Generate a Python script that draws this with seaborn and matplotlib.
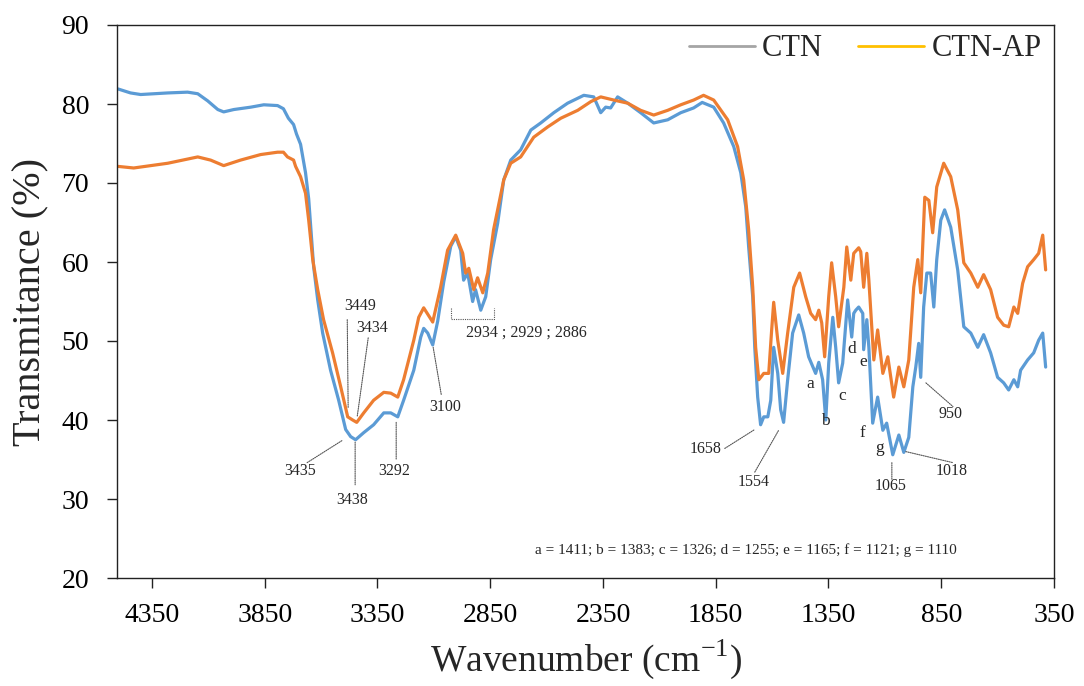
import matplotlib
matplotlib.use("Agg")
import matplotlib.pyplot as plt
import pandas as pd
import seaborn as sns
from matplotlib.lines import Line2D

# ---------------- data ----------------
ctn_wn = [4500, 4445, 4400, 4280, 4192, 4147, 4103, 4058, 4032, 3987, 3912, 3854, 3793,
          3767, 3745, 3722, 3709, 3691, 3678, 3669, 3655, 3646, 3633, 3615, 3593, 3558,
          3522, 3491, 3469, 3447, 3411, 3367, 3322, 3291, 3260, 3234, 3189, 3158, 3145,
          3127, 3105, 3083, 3056, 3025, 3003, 2981, 2968, 2950, 2928, 2915, 2892, 2870,
          2848, 2817, 2790, 2759, 2715, 2670, 2626, 2568, 2507, 2435, 2391, 2360, 2338,
          2316, 2285, 2240, 2183, 2125, 2063, 2005, 1948, 1910, 1859, 1815, 1770, 1739,
          1717, 1704, 1686, 1677, 1664, 1651, 1637, 1619, 1606, 1593, 1575, 1562, 1549,
          1531, 1509, 1482, 1460, 1438, 1407, 1393, 1376, 1362, 1349, 1331, 1318, 1305,
          1287, 1265, 1247, 1238, 1229, 1216, 1198, 1194, 1180, 1171, 1154, 1132, 1109,
          1092, 1065, 1038, 1016, 994, 976, 963, 950, 941, 928, 914, 897, 883, 870, 852,
          835, 808, 777, 750, 719, 688, 662, 631, 600, 573, 551, 528, 511, 498, 467, 440,
          418, 400, 387]
ctn_t = [81.9, 81.4, 81.2, 81.4, 81.5, 81.3, 80.4, 79.3, 79.0, 79.3, 79.6, 79.9, 79.8,
         79.4, 78.2, 77.4, 76.2, 74.9, 72.8, 71.3, 68.0, 64.5, 59.4, 55.2, 51.0, 46.3,
         42.5, 38.8, 37.9, 37.5, 38.4, 39.4, 40.9, 40.9, 40.4, 42.5, 46.3, 50.5, 51.6,
         51.0, 49.5, 52.5, 57.5, 62.0, 63.2, 61.5, 57.7, 58.6, 55.0, 56.5, 53.9, 55.6,
         60.3, 64.9, 70.4, 72.9, 74.2, 76.7, 77.6, 78.9, 80.1, 81.1, 80.9, 78.9, 79.6,
         79.5, 80.9, 80.1, 78.9, 77.6, 78.0, 78.9, 79.5, 80.2, 79.6, 77.6, 74.6, 71.3,
         67.0, 61.9, 55.6, 49.2, 42.9, 39.4, 40.4, 40.4, 42.5, 49.2, 45.9, 41.3, 39.7,
         45.1, 51.0, 53.3, 51.0, 48.0, 45.9, 47.3, 45.1, 40.0, 47.2, 53.0, 49.2, 44.7,
         47.2, 55.2, 50.5, 53.5, 53.9, 54.3, 53.5, 48.9, 52.7, 49.2, 39.6, 42.9, 38.7,
         39.6, 35.6, 38.1, 35.9, 37.8, 44.2, 46.7, 49.7, 45.4, 54.3, 58.6, 58.6, 54.3,
         60.3, 65.3, 66.6, 64.4, 59.0, 51.8, 51.0, 49.2, 50.8, 48.5, 45.4, 44.7, 43.8,
         45.1, 44.2, 46.3, 47.6, 48.5, 50.1, 51.0, 46.7]

ap_wn = [4500, 4431, 4280, 4147, 4090, 4032, 3957, 3868, 3793, 3767, 3749, 3722, 3713,
         3691, 3669, 3655, 3637, 3615, 3589, 3549, 3513, 3482, 3460, 3442, 3411, 3367,
         3322, 3291, 3260, 3234, 3189, 3167, 3145, 3105, 3070, 3039, 3003, 2972, 2959,
         2945, 2923, 2906, 2883, 2861, 2835, 2790, 2759, 2715, 2657, 2595, 2537, 2462,
         2404, 2360, 2302, 2240, 2183, 2125, 2063, 2005, 1948, 1904, 1859, 1797, 1753,
         1726, 1704, 1686, 1673, 1659, 1637, 1615, 1602, 1593, 1575, 1553, 1531, 1504,
         1478, 1451, 1429, 1407, 1393, 1380, 1367, 1349, 1336, 1318, 1305, 1282, 1269,
         1251, 1238, 1216, 1207, 1194, 1180, 1171, 1149, 1132, 1109, 1087, 1061, 1038,
         1016, 994, 972, 954, 941, 923, 905, 888, 870, 839, 808, 777, 750, 719, 688, 662,
         631, 600, 573, 551, 528, 511, 489, 467, 440, 418, 400, 387]
ap_t = [72.1, 71.9, 72.5, 73.3, 72.9, 72.2, 72.9, 73.6, 73.9, 73.9, 73.3, 72.9, 72.1,
        70.8, 68.7, 65.3, 60.3, 56.5, 52.7, 48.5, 44.2, 40.4, 40.0, 39.7, 40.9, 42.5,
        43.5, 43.4, 42.9, 45.1, 50.1, 53.0, 54.2, 52.4, 56.8, 61.5, 63.4, 61.1, 58.6,
        59.2, 56.5, 58.0, 56.1, 58.6, 64.1, 70.4, 72.5, 73.3, 75.8, 77.1, 78.2, 79.2,
        80.3, 80.9, 80.5, 80.1, 79.2, 78.6, 79.2, 79.9, 80.5, 81.1, 80.5, 78.0, 74.6,
        70.4, 64.1, 56.8, 49.2, 45.1, 45.9, 45.9, 51.4, 54.9, 50.1, 45.9, 51.0, 56.8,
        58.6, 55.6, 53.5, 52.7, 53.9, 52.3, 48.0, 55.6, 59.9, 55.6, 51.8, 56.8, 61.9,
        57.7, 61.1, 61.8, 61.3, 56.8, 61.1, 57.7, 47.6, 51.4, 45.9, 48.0, 42.9, 46.7,
        44.2, 47.6, 56.8, 60.3, 56.1, 68.2, 67.8, 63.7, 69.5, 72.5, 70.8, 66.6, 59.9,
        58.6, 56.8, 58.4, 56.5, 53.0, 52.0, 51.8, 54.3, 53.5, 57.3, 59.4, 60.3, 61.1,
        63.4, 59.0]

series_names = ["CTN", "CTN-AP"]
x_ticks = [4350, 3850, 3350, 2850, 2350, 1850, 1350, 850, 350]
y_ticks = [20, 30, 40, 50, 60, 70, 80, 90]
x_label_text = "Wavenumber (cm$^{\\mathregular{-1}}$)"
y_label_text = "Transmitance (%)"
note_text = "a = 1411; b = 1383; c = 1326; d = 1255; e = 1165; f = 1121; g = 1110"

# peak labels: text, text position, leader start, leader end (data coords)
peak_labels = [
    ("3449", (3427, 54.4), (3484, 52.7), (3480, 41.6)),
    ("3434", (3373, 51.6), (3391, 50.4), (3440, 40.4)),
    ("3435", (3693, 33.6), (3662, 34.6), (3507, 37.4)),
    ("3438", (3462, 29.9), (3449, 37.2), (3449, 31.8)),
    ("3292", (3276, 33.5), (3267, 39.7), (3267, 35.0)),
    ("3100", (3049, 41.6), (3103, 49.2), (3067, 43.2)),
    ("1658", (1895, 36.3), (1810, 36.4), (1677, 38.8)),
    ("1554", (1682, 32.1), (1677, 33.4), (1571, 38.7)),
    ("1065", (1073, 31.6), (1069, 34.6), (1069, 32.5)),
    ("1018", (803, 33.6), (1007, 36.0), (798, 34.6)),
    ("950", (807, 40.8), (918, 44.7), (798, 41.7)),
]
letter_labels = [("a", 1429, 44.5), ("b", 1362, 39.9), ("c", 1291, 43.1),
                 ("d", 1247, 49.0), ("e", 1198, 47.3), ("f", 1198, 38.4),
                 ("g", 1122, 36.5)]

# ---------------- style ----------------
sns.set_theme(style="ticks")
plt.rcParams["font.family"] = ["Liberation Serif", "DejaVu Serif"]
plt.rcParams["mathtext.fontset"] = "custom"
plt.rcParams["mathtext.rm"] = "Liberation Serif"

line_colors = {"CTN": "#5B9BD5", "CTN-AP": "#ED7D31"}
legend_colors = {"CTN": "#A5A5A5", "CTN-AP": "#FFC000"}

df = pd.concat([
    pd.DataFrame({"wn": ctn_wn, "T": ctn_t, "series": series_names[0]}),
    pd.DataFrame({"wn": ap_wn, "T": ap_t, "series": series_names[1]}),
], ignore_index=True)

fig = plt.figure(figsize=(10.84, 6.86), dpi=100)
ax = fig.add_axes([117 / 1084, 1 - 578 / 686, (1054 - 117) / 1084, (578 - 25) / 686])

sns.lineplot(data=df, x="wn", y="T", hue="series", hue_order=series_names,
             palette=line_colors, sort=False, estimator=None, linewidth=2.3,
             legend=False, ax=ax)
for ln in ax.lines:
    ln.set_solid_joinstyle("round")

ax.set_xlim(4505, 350)
ax.set_ylim(20, 90)
ax.set_xticks(x_ticks)
ax.set_yticks(y_ticks)
ax.tick_params(axis="both", direction="out", length=7, width=1, colors="#222222",
               labelsize=20, labelcolor="black")
ax.tick_params(axis="x", pad=11)
ax.tick_params(axis="y", pad=13)
for s in ax.spines.values():
    s.set_visible(True)
    s.set_linewidth(1.0)
    s.set_color("#222222")

ax.set_xlabel(x_label_text, fontsize=27)
ax.set_ylabel(y_label_text, fontsize=29)
ax.xaxis.set_label_coords(0.5, -0.108)
ax.yaxis.set_label_coords(-0.072, 0.5)

# legend (colors as in the reference legend)
handles = [Line2D([], [], color=legend_colors[n], lw=2) for n in series_names]
ax.legend(handles, series_names, loc="upper right", bbox_to_anchor=(0.987, 0.983),
          ncol=2, frameon=False, fontsize=22, handlelength=2.15, handletextpad=0.25,
          columnspacing=1.15, borderpad=0, borderaxespad=0)

ann_kw = dict(fontsize=11.5, ha="center", va="center")
lead_kw = dict(arrowstyle="-", linestyle=(0, (1, 1)), lw=0.8, color="#555555",
               shrinkA=0, shrinkB=0)
for txt, tpos, p0, p1 in peak_labels:
    ax.text(tpos[0], tpos[1], txt, **ann_kw)
    ax.annotate("", xy=p1, xytext=p0, arrowprops=lead_kw)
for txt, xx, yy in letter_labels:
    ax.text(xx, yy, txt, fontsize=12.5, ha="center", va="center")

# bracket over the 2900 region
ax.plot([3023, 3023, 2832, 2832], [54.2, 52.8, 52.8, 54.2], color="#555555",
        lw=0.8, linestyle=(0, (1, 1)))
ax.text(2690, 51.1, "2934 ; 2929 ; 2886", **ann_kw)
ax.text(1717, 23.5, note_text, fontsize=11, ha="center", va="center")

fig.savefig("out.png", dpi=100)
